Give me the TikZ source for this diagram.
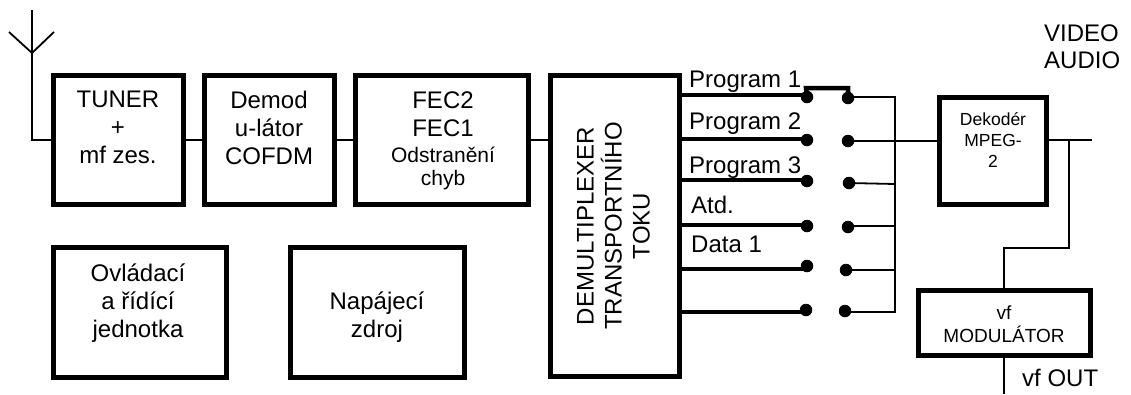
\documentclass[tikz,border=0pt]{standalone}
\usepackage{fontspec}
\setmainfont{Liberation Sans}
\newcommand{\fa}{\fontsize{24}{28}\selectfont}
\newcommand{\fb}{\fontsize{21}{23}\selectfont}
\newcommand{\fd}{\fontsize{17.5}{21}\selectfont}
\newcommand{\fc}{\fontsize{19}{23}\selectfont}
\tikzset{x=1pt,y=-1pt,
  blockbox/.style={draw=black,line width=5pt,inner sep=0pt,anchor=north west},
  thin wire/.style={draw=black,line width=1.8pt},
  bus wire/.style={draw=black,line width=3.6pt},
  dotn/.style={circle,fill=black,minimum size=12.5pt,inner sep=0pt},
  txt/.style={align=center,inner sep=0pt,anchor=base},
  lbl/.style={inner sep=0pt,anchor=base west,font=\fa}}
\begin{document}
\begin{tikzpicture}
\useasboundingbox (0,0) rectangle (1131,394);
% blocks
\node[blockbox,minimum width=130pt,minimum height=129pt] (tuner) at (51,73) {};
\node[blockbox,minimum width=130pt,minimum height=129pt] (demod) at (202,73) {};
\node[blockbox,minimum width=173pt,minimum height=129pt] (fec) at (353,73) {};
\node[blockbox,minimum width=129pt,minimum height=301pt] (demux) at (548,73) {};
\node[blockbox,minimum width=173pt,minimum height=130pt] (ovl) at (51,245) {};
\node[blockbox,minimum width=174pt,minimum height=130pt] (nap) at (288,245) {};
\node[blockbox,minimum width=107pt,minimum height=107pt] (dek) at (937,95) {};
\node[blockbox,minimum width=172pt,minimum height=65pt] (mod) at (916,288) {};
% block texts
\node[txt,font=\fa] (t1) at (118,163) {TUNER\\+\\mf zes.};
\node[txt,font=\fa] (t2) at (269,164) {Demod\\u-látor\\COFDM};
\node[txt,font=\fa] (t3) at (443,136) {FEC2\\FEC1};
\node[txt,font=\fb] (t3b) at (443,185) {Odstranění\\chyb};
\node[rotate=90,align=center,font=\fa,inner sep=0pt] (t4) at (613.5,226) {DEMULTIPLEXER\\TRANSPORTNÍHO\\TOKU};
\node[txt,font=\fa] (t5) at (138,337) {Ovládací\\a řídící\\jednotka};
\node[txt,font=\fa] (t6) at (377,337) {Napájecí\\zdroj};
\node[txt,font=\fd] (t7) at (993,167) {Dekodér\\MPEG-\\2};
\node[txt,font=\fc] (t8) at (1004,342) {vf\\MODULÁTOR};
\node[lbl] (p1) at (689,87) {Program 1};
\node[lbl] (p2) at (689,129) {Program 2};
\node[lbl] (p3) at (689,173) {Program 3};
\node[lbl] (p4) at (691,213) {Atd.};
\node[lbl] (p5) at (691,252) {Data 1};
\node[lbl] (vid) at (1044,41) {VIDEO};
\node[lbl] (aud) at (1044,68) {AUDIO};
\node[lbl] (out) at (1022,386) {vf OUT};
% dots
\foreach \n/\x/\y in {a1/807/97,a2/807/140,a3/807/181,a4/807/226,a5/807/266,a6/806/310,
  b1/848/98,b2/848/141,b3/849/183,b4/848/227,b5/846/270,b6/845/311}
  \node[dotn] (\n) at (\x,\y) {};
% coordinates
\coordinate (ant) at (32,53);
\coordinate (antt) at (32,10);
\coordinate (antl) at (9,32);
\coordinate (antr) at (54,32);
\coordinate (antb) at (32,140);
\coordinate (bt) at (895,97);
\coordinate (bb) at (895,312);
\coordinate (vend) at (1092,140);
\coordinate (vj) at (1069,140);
\coordinate (vk) at (1069,248);
\coordinate (vm) at (1004,248);
\coordinate (oute) at (1004,394);
% antenna
\draw[thin wire] (antl) -- (ant) -- (antr) (antt) -- (ant) -- (antb) -- (antb -| tuner.west);
% chain
\draw[thin wire] (tuner.east |- antb) -- (demod.west |- antb);
\draw[thin wire] (demod.east |- antb) -- (fec.west |- antb);
\draw[thin wire] (fec.east |- antb) -- (demux.west |- antb);
% bus lines
\foreach \n/\y in {a1/95,a2/139,a3/180,a4/225,a5/269,a6/312}
  \draw[bus wire] (demux.east |- 0,\y) -- (\n.center |- 0,\y);
% switch
\draw[draw=black,line width=4.5pt] (a1.center) -- (806,88) -- (848,88) -- (b1.center);
% right bus
\draw[thin wire,line join=miter] (b1.center) -- (848,97) -- (bt) -- (bb) -- (845,312) -- (b6.center);
\draw[thin wire] (b2.center) -- (dek.west |- b2);
\draw[thin wire] (b3.center) -- (895,184);
\draw[thin wire] (848,226) -- (895,226);
\draw[thin wire] (b5.center) -- (895,270);
% outputs
\draw[thin wire] (dek.east |- vj) -- (vend);
\draw[thin wire] (vj) -- (vk) -- (vm) -- (mod.north -| vm);
\draw[thin wire] (mod.south -| vm) -- (oute);
\end{tikzpicture}
\end{document}
